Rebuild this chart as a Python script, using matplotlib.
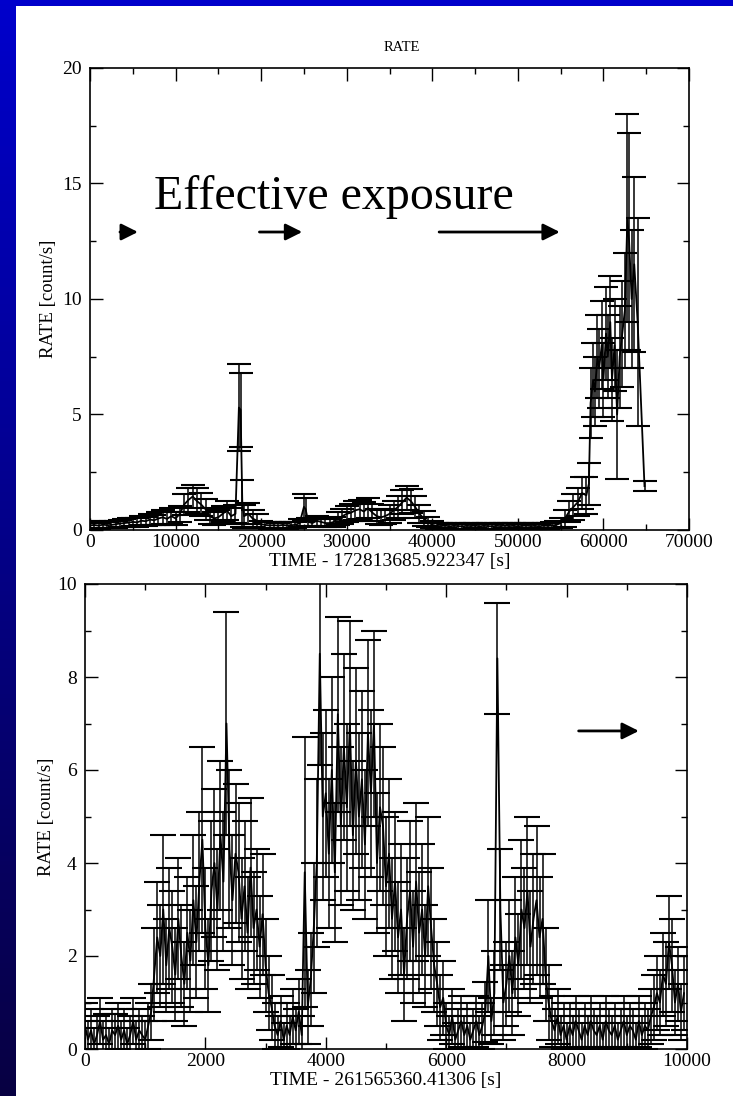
import numpy as np
import matplotlib
matplotlib.use("Agg")
import matplotlib.pyplot as plt
from matplotlib.colors import LinearSegmentedColormap
from matplotlib.patches import Rectangle
from matplotlib.ticker import MultipleLocator

plt.rcParams['font.family'] = ['Liberation Serif', 'DejaVu Serif']

# --- top light curve (TIME - 172813685.922347) ---
top_time = [
    0, 500, 1000, 1500, 2000, 2500, 3000, 3500, 4000, 4500,
    5000, 5500, 6000, 6500, 7000, 7500, 8000, 8500, 9000, 9500,
    10000, 10500, 11000, 11500, 12000, 12500, 13000, 13500, 14000, 14500,
    15000, 15500, 16000, 16500, 17000, 17400, 17600, 17800, 18000, 18500,
    19000, 19500, 20000, 20500, 21000, 21500, 22000, 22500, 23000, 23500,
    24000, 24500, 25000, 25200, 25500, 26000, 26500, 27000, 27500, 28000,
    28500, 29000, 29500, 30000, 30500, 31000, 31500, 32000, 32500, 33000,
    33500, 34000, 34500, 35000, 35500, 36000, 36500, 37000, 37500, 38000,
    38500, 39000, 39500, 40000, 40500, 41000, 41500, 42000, 42500, 43000,
    43500, 44000, 44500, 45000, 45500, 46000, 46500, 47000, 47500, 48000,
    48500, 49000, 49500, 50000, 50500, 51000, 51500, 52000, 52500, 53000,
    53500, 54000, 54500, 55000, 55500, 56000, 56500, 57000, 57500, 58000,
    58300, 58500, 58800, 59000, 59300, 59500, 59800, 60000, 60300, 60500,
    60800, 61000, 61300, 61600, 61900, 62200, 62500, 62800, 63000, 63300,
    63600, 64000, 64800]
top_rate = [
    0.20, 0.22, 0.19, 0.23, 0.21, 0.22, 0.25, 0.28, 0.30, 0.32,
    0.35, 0.33, 0.40, 0.38, 0.45, 0.42, 0.50, 0.55, 0.48, 0.60,
    0.50, 0.70, 1.10, 1.30, 1.45, 1.25, 1.10, 0.90, 0.60, 0.50,
    0.55, 0.70, 0.85, 0.60, 0.70, 5.30, 5.20, 1.15, 0.60, 0.70,
    0.50, 0.40, 0.25, 0.22, 0.20, 0.21, 0.19, 0.22, 0.20, 0.21,
    0.22, 0.30, 1.00, 0.90, 0.35, 0.30, 0.40, 0.35, 0.30, 0.30,
    0.35, 0.50, 0.60, 0.70, 0.75, 0.85, 0.90, 0.80, 0.95, 0.75,
    0.60, 0.55, 0.60, 0.70, 0.85, 1.00, 1.20, 1.40, 1.25, 1.00,
    0.70, 0.50, 0.35, 0.22, 0.18, 0.17, 0.19, 0.16, 0.18, 0.17,
    0.16, 0.18, 0.17, 0.19, 0.16, 0.18, 0.17, 0.16, 0.18, 0.17,
    0.19, 0.17, 0.18, 0.16, 0.18, 0.19, 0.17, 0.18, 0.16, 0.19,
    0.18, 0.20, 0.22, 0.30, 0.50, 0.80, 1.00, 1.20, 1.60, 1.50,
    2.00, 5.50, 6.50, 6.00, 7.50, 7.00, 8.00, 6.50, 8.50, 7.50,
    9.00, 6.50, 8.00, 5.00, 7.50, 8.50, 9.50, 13.50, 12.50, 10.00,
    11.50, 9.00, 1.90]
top_err = [
    0.14, 0.15, 0.13, 0.15, 0.14, 0.15, 0.16, 0.17, 0.18, 0.18,
    0.19, 0.19, 0.20, 0.20, 0.24, 0.22, 0.30, 0.30, 0.28, 0.35,
    0.30, 0.35, 0.45, 0.50, 0.50, 0.55, 0.50, 0.45, 0.35, 0.30,
    0.30, 0.35, 0.40, 0.35, 0.40, 1.90, 1.60, 1.00, 0.50, 0.45,
    0.35, 0.30, 0.16, 0.14, 0.14, 0.14, 0.13, 0.14, 0.14, 0.14,
    0.14, 0.18, 0.55, 0.50, 0.18, 0.16, 0.22, 0.18, 0.16, 0.16,
    0.22, 0.28, 0.32, 0.36, 0.38, 0.42, 0.42, 0.42, 0.42, 0.38,
    0.32, 0.32, 0.32, 0.38, 0.42, 0.48, 0.52, 0.52, 0.52, 0.48,
    0.38, 0.32, 0.22, 0.15, 0.12, 0.12, 0.12, 0.11, 0.12, 0.12,
    0.11, 0.12, 0.12, 0.12, 0.11, 0.12, 0.12, 0.11, 0.12, 0.12,
    0.12, 0.12, 0.12, 0.11, 0.12, 0.12, 0.12, 0.12, 0.11, 0.12,
    0.12, 0.13, 0.15, 0.20, 0.35, 0.45, 0.55, 0.60, 0.70, 0.80,
    0.90, 1.50, 1.60, 1.50, 1.80, 1.70, 1.90, 1.60, 2.00, 1.80,
    2.00, 1.80, 2.00, 2.80, 2.20, 2.30, 2.50, 4.50, 4.70, 3.00,
    3.80, 4.50, 0.20]

# --- bottom light curve (TIME - 261565360.41306), 50 s bins ---
bot_time = list(range(0, 10000, 50))
bot_rate = [
    0.5, 0.2, 0.4, 0.1, 0.3, 0.6, 0.2, 0.3, 0.1, 0.4,
    0.3, 0.5, 0.2, 0.4, 0.1, 0.3, 0.6, 0.2, 0.4, 0.3,
    0.2, 0.5, 0.8, 1.6, 2.4, 2.0, 3.0, 1.8, 2.6, 2.2,
    1.6, 2.8, 2.0, 1.4, 2.5, 1.9, 3.2, 2.3, 3.6, 4.5,
    2.6, 1.8, 3.4, 4.0, 3.0, 4.6, 3.6, 7.0, 4.3, 3.2,
    4.2, 3.8, 2.8, 3.5, 2.5, 3.9, 2.6, 3.0, 2.2, 2.9,
    1.8, 1.2, 0.9, 0.5, 0.3, 0.6, 0.2, 0.5, 0.3, 0.7,
    0.4, 0.8, 0.3, 3.8, 0.9, 1.5, 2.6, 4.0, 8.5, 5.0,
    5.5, 4.2, 6.0, 3.8, 7.2, 4.8, 6.5, 5.2, 7.0, 4.6,
    6.2, 5.0, 5.8, 4.4, 6.8, 5.5, 7.0, 4.0, 5.2, 4.8,
    3.5, 4.2, 2.8, 3.6, 2.4, 3.0, 1.6, 2.8, 3.4, 2.2,
    3.6, 2.5, 3.0, 2.0, 3.5, 2.6, 1.8, 1.4, 0.9, 1.1,
    0.5, 0.3, 0.7, 0.2, 0.4, 0.6, 0.3, 0.5, 0.2, 0.4,
    0.6, 0.3, 0.5, 0.8, 2.0, 0.6, 1.2, 8.4, 3.0, 1.0,
    1.4, 2.0, 1.2, 2.4, 1.8, 3.0, 2.6, 3.4, 2.2, 2.8,
    3.2, 2.4, 2.8, 1.6, 1.0, 0.6, 0.4, 0.7, 0.3, 0.5,
    0.2, 0.5, 0.3, 0.6, 0.4, 0.2, 0.5, 0.3, 0.6, 0.4,
    0.3, 0.5, 0.2, 0.6, 0.4, 0.3, 0.5, 0.2, 0.4, 0.6,
    0.3, 0.5, 0.4, 0.2, 0.6, 0.3, 0.5, 0.4, 0.7, 0.9,
    1.2, 1.0, 1.6, 1.4, 2.3, 1.8, 1.0, 1.4, 0.8, 1.2]
bot_err = [
    0.50, 0.40, 0.45, 0.35, 0.40, 0.50, 0.40, 0.45, 0.35, 0.45,
    0.45, 0.50, 0.40, 0.45, 0.35, 0.40, 0.50, 0.40, 0.45, 0.40,
    0.40, 0.50, 0.60, 1.00, 1.20, 1.10, 1.60, 1.00, 1.30, 1.20,
    1.00, 1.30, 1.10, 0.90, 1.20, 1.10, 1.40, 1.20, 1.50, 2.00,
    1.30, 1.00, 1.50, 1.60, 1.30, 1.60, 1.50, 2.40, 1.70, 1.40,
    1.50, 1.50, 1.30, 1.40, 1.20, 1.50, 1.20, 1.30, 1.10, 1.30,
    1.00, 0.80, 0.70, 0.50, 0.40, 0.55, 0.35, 0.50, 0.40, 0.60,
    0.45, 0.70, 0.40, 2.90, 0.80, 1.00, 1.40, 1.80, 2.40, 1.80,
    1.80, 1.60, 2.00, 1.50, 2.10, 1.70, 2.00, 1.80, 2.20, 1.60,
    2.00, 1.80, 1.90, 1.60, 2.00, 1.80, 2.00, 1.50, 1.80, 1.70,
    1.50, 1.60, 1.30, 1.50, 1.20, 1.40, 1.00, 1.30, 1.50, 1.20,
    1.70, 1.30, 1.40, 1.10, 1.50, 1.30, 1.00, 0.90, 0.70, 0.80,
    0.50, 0.40, 0.60, 0.35, 0.45, 0.55, 0.40, 0.50, 0.35, 0.45,
    0.55, 0.40, 0.50, 0.65, 1.20, 0.50, 0.90, 1.20, 1.30, 0.80,
    0.90, 1.20, 0.90, 1.30, 1.10, 1.50, 1.30, 1.60, 1.20, 1.40,
    1.60, 1.30, 1.40, 1.00, 0.80, 0.55, 0.45, 0.60, 0.40, 0.50,
    0.35, 0.50, 0.40, 0.55, 0.45, 0.35, 0.50, 0.40, 0.55, 0.45,
    0.40, 0.50, 0.35, 0.55, 0.45, 0.40, 0.50, 0.35, 0.45, 0.55,
    0.40, 0.50, 0.45, 0.35, 0.55, 0.40, 0.50, 0.45, 0.60, 0.70,
    0.80, 0.70, 0.90, 0.90, 1.00, 1.00, 0.70, 0.80, 0.60, 0.80]

fig = plt.figure(figsize=(7.33, 10.96), dpi=100)

# slide background: blue gradient border, white panel
bg = fig.add_axes([0, 0, 1, 1], zorder=-5)
bg.axis('off')
cmap = LinearSegmentedColormap.from_list('slide', [(0.03, 0.0, 0.26), (0.0, 0.0, 0.80)])
bg.imshow(np.linspace(0, 1, 256)[::-1, None], cmap=cmap, aspect='auto',
          extent=[0, 1, 0, 1], origin='upper')
bg.add_patch(Rectangle((16 / 733, 0), 1, 1 - 6 / 1096, transform=bg.transAxes,
                       facecolor='white', edgecolor='none'))
bg.set_xlim(0, 1)
bg.set_ylim(0, 1)


def style_axes(ax, xmaj, xmin, ymaj, ymin):
    ax.xaxis.set_major_locator(MultipleLocator(xmaj))
    ax.xaxis.set_minor_locator(MultipleLocator(xmin))
    ax.yaxis.set_major_locator(MultipleLocator(ymaj))
    ax.yaxis.set_minor_locator(MultipleLocator(ymin))
    ax.tick_params(which='both', direction='in', top=True, right=True, width=1)
    ax.tick_params(which='major', length=9)
    ax.tick_params(which='minor', length=4.5)
    ax.tick_params(axis='x', labelsize=14, pad=3)
    ax.tick_params(axis='y', labelsize=14, pad=6)
    for sp in ax.spines.values():
        sp.set_linewidth(1.2)


# --- top panel ---
ax1 = fig.add_axes([90 / 733, 1 - 530 / 1096, 599 / 733, 462 / 1096])
ax1.errorbar(top_time, top_rate, yerr=top_err, color='black', lw=1.3,
             elinewidth=1.1, capsize=8.3, capthick=1.5)
ax1.set_xlim(0, 70000)
ax1.set_ylim(0, 20)
style_axes(ax1, 10000, 5000, 5, 2.5)
ax1.set_title('RATE', fontsize=10.5, pad=12, x=0.52)
ax1.set_xlabel('TIME - 172813685.922347 [s]', fontsize=14)
ax1.set_ylabel('RATE [count/s]', fontsize=13.5)
ax1.xaxis.set_label_coords(0.5, -0.05)
ax1.yaxis.set_label_coords(-0.055, 0.5)

ax1.text(7500, 14.4, 'Effective exposure', fontsize=34.5, va='center', ha='left')
arrow = dict(arrowstyle='-|>', color='black', lw=2, mutation_scale=25,
             shrinkA=0, shrinkB=0)
for x0, x1 in [(3500, 5600), (19800, 24800), (40800, 54900)]:
    ax1.annotate('', xy=(x1, 12.9), xytext=(x0, 12.9), arrowprops=arrow)

# --- bottom panel ---
ax2 = fig.add_axes([85 / 733, 1 - 1049 / 1096, 602 / 733, 465 / 1096])
ax2.errorbar(bot_time, bot_rate, yerr=bot_err, color='black', lw=1.3,
             elinewidth=1.1, capsize=9.3, capthick=1.5)
ax2.set_xlim(0, 10000)
ax2.set_ylim(0, 10)
style_axes(ax2, 2000, 1000, 2, 1)
ax2.set_xlabel('TIME - 261565360.41306 [s]', fontsize=14)
ax2.set_ylabel('RATE [count/s]', fontsize=13.5)
ax2.xaxis.set_label_coords(0.5, -0.05)
ax2.yaxis.set_label_coords(-0.05, 0.5)
ax2.annotate('', xy=(9200, 6.84), xytext=(8200, 6.84), arrowprops=arrow)

fig.savefig('out.png', dpi=100)
